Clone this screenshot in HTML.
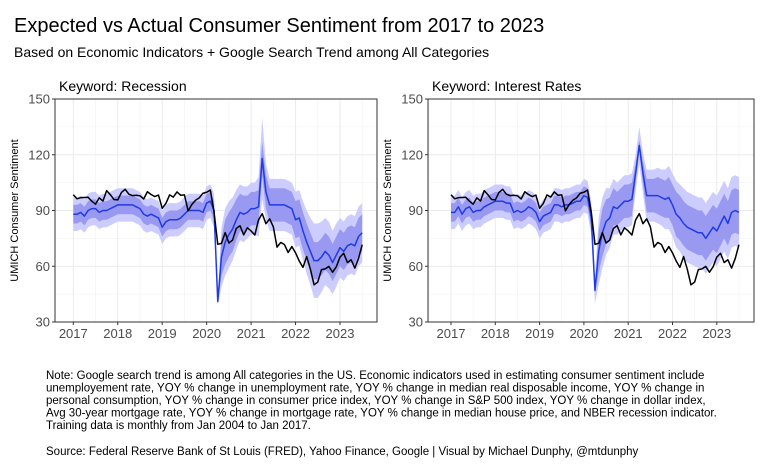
<!DOCTYPE html>
<html><head><meta charset="utf-8">
<style>
body{margin:0;background:#fff;}
svg{display:block;font-family:"Liberation Sans",Arial,sans-serif;}
</style></head>
<body>
<svg id="chart" width="770" height="475" viewBox="0 0 770 475">
<text x="14" y="32" font-size="20" fill="#000">Expected vs Actual Consumer Sentiment from 2017 to 2023</text>
<text x="14" y="57" font-size="14" fill="#000">Based on Economic Indicators + Google Search Trend among All Categories</text>
<g id="p1"></g>
<g id="p2"></g>
<g font-size="11.5" fill="#000">
<text x="46" y="379">Note: Google search trend is among All categories in the US. Economic indicators used in estimating consumer sentiment include</text>
<text x="46" y="391.5">unemployement rate, YOY % change in unemployment rate, YOY % change in median real disposable income, YOY % change in</text>
<text x="46" y="404">personal consumption, YOY % change in consumer price index, YOY % change in S&amp;P 500 index, YOY % change in dollar index,</text>
<text x="46" y="416.5">Avg 30-year mortgage rate, YOY % change in mortgage rate, YOY % change in median house price, and NBER recession indicator.</text>
<text x="46" y="429">Training data is monthly from Jan 2004 to Jan 2017.</text>
</g>
<text x="46" y="455" font-size="11.5" fill="#000">Source: Federal Reserve Bank of St Louis (FRED), Yahoo Finance, Google | Visual by Michael Dunphy, @mtdunphy</text>
</svg>
<script>
const actual=[98.5,96.3,96.9,97.0,97.1,95.0,93.4,96.8,95.1,100.7,98.5,95.9,
95.7,99.7,101.4,98.8,98.0,98.2,97.9,96.2,100.1,98.6,97.5,98.3,
91.2,93.8,98.4,97.2,100.0,98.2,98.4,89.8,93.2,95.5,96.8,99.3,
99.8,101.0,89.1,71.8,72.3,78.1,72.5,74.1,80.4,81.8,76.9,80.7,
79.0,76.8,84.9,88.3,82.9,85.5,81.2,70.3,72.8,71.7,67.4,70.6,
67.2,62.8,59.4,65.2,58.4,50.0,51.5,58.2,58.6,59.9,56.8,59.7,
64.9,67.0,62.0,63.5,59.0,64.2,71.6];
const predRecession=[88,88,89,87,90,91,91,89,90,90,91,92,
93,93,93,93,93,92,91,88,87,88,87,86,
81,84,85,85,85,86,88,90,90,90,90,89,
94,95,90,41,65,73,77,80,85,89,88,89,
91,91,92,118,100,93,93,93,93,93,92,91,
85,86,79,73,68,63,63,65,68,66,62,66,
70,68,71,72,71,76,78];
const innerRecession=[5,5,5,5,5,5,5,5,5,5,5,5, 5,5,5,5,5,5,5,5,5,5,5,5, 5,5,5,5,5,5,5,5,5,5,5,5,
5,5,5,1,10,12,12,12,11,10,10,9, 9,9,9,9,9,9,9,9,9,9,9,9, 10,10,10,10,10,10,10,10,10,10,10,10, 10,10,10,10,10,10,10];
const outerRecession=[9,9,9,9,9,9,9,9,9,9,9,9, 9,9,9,9,9,9,9,9,9,9,9,9, 9,9,9,9,9,9,9,9,9,9,9,9,
9,9,9,2,16,18,18,17,16,15,15,14, 14,14,16,22,15,14,14,14,14,14,14,14, 15,15,16,17,18,20,20,19,18,18,17,17, 16,16,16,16,16,16,16];
const predRates=[89,89,92,88,91,92,89,90,90,92,93,94,
95,95,95,94,94,89,90,89,90,92,91,89,
84,87,88,89,93,93,92,93,93,94,95,95,
98,97,86,47,68,78,84,86,92,91,93,95,
95,96,110,125,110,98,98,98,98,97,96,97,
93,88,86,83,81,80,79,78,78,75,78,81,
79,83,87,83,89,90,89];
const innerRates=[5,5,5,5,5,5,5,5,5,5,5,5, 5,5,5,5,5,5,5,5,5,5,5,5, 5,5,5,5,5,5,5,5,5,5,5,5,
5,5,5,1,11,13,12,11,10,9,9,9, 9,9,5,3,6,9,9,9,10,10,10,11, 11,12,12,12,12,12,12,12,12,12,12,12, 12,12,12,12,12,12,12];
const outerRates=[9,9,9,9,9,9,9,9,9,9,9,9, 9,9,9,9,9,9,9,9,9,9,9,9, 9,9,9,9,9,9,9,9,9,9,9,9,
9,9,9,7,18,19,18,16,15,14,14,14, 14,14,10,10,11,14,14,14,15,15,16,17, 17,18,18,19,19,19,19,19,19,19,19,19, 19,19,19,19,19,19,19];
const yTicks=[30,60,90,120,150];
const xTicks=[2017,2018,2019,2020,2021,2022,2023];
const NS="http://www.w3.org/2000/svg";
function mk(tag,attrs,parent){const e=document.createElementNS(NS,tag);for(const k in attrs)e.setAttribute(k,attrs[k]);parent.appendChild(e);return e;}
function panel(g,x0,x1,x2017,yearW,title,pred,inner,outer){
  const yTop=99,yBot=322;
  const yS=v=>yBot-(v-30)/120*(yBot-yTop);
  const xS=i=>x2017+(i/12)*yearW;
  const t=mk('text',{x:x0+4,y:91,'font-size':14,fill:'#000'},g);t.textContent=title;
  
  
  // minor grid
  for(let v=45;v<150;v+=30)mk('line',{x1:x0,x2:x1,y1:yS(v),y2:yS(v),stroke:'#f2f2f2','stroke-width':0.6},g);
  for(let y=2016.5;y<2024;y+=1){const x=x2017+(y-2017)*yearW;if(x>x0&&x<x1)mk('line',{x1:x,x2:x,y1:yTop,y2:yBot,stroke:'#f2f2f2','stroke-width':0.6},g);}
  yTicks.forEach(v=>{mk('line',{x1:x0,x2:x1,y1:yS(v),y2:yS(v),stroke:'#ebebeb','stroke-width':1},g);
    mk('line',{x1:x0-3,x2:x0,y1:yS(v),y2:yS(v),stroke:'#333'},g);
    const l=mk('text',{x:x0-5,y:yS(v)+4.5,'font-size':13,fill:'#4d4d4d','text-anchor':'end'},g);l.textContent=v;
    
    });
  xTicks.forEach(yv=>{const x=x2017+(yv-2017)*yearW;
    mk('line',{x1:x,x2:x,y1:yTop,y2:yBot,stroke:'#ebebeb','stroke-width':1},g);
    mk('line',{x1:x,x2:x,y1:yBot,y2:yBot+3,stroke:'#333'},g);
    const l=mk('text',{x:x,y:yBot+16,'font-size':13,fill:'#4d4d4d','text-anchor':'middle'},g);l.textContent=yv;
    
    });
  function band(w,color,name){let up='',dn='';
    pred.forEach((p,i)=>{up+=(i?'L':'M')+xS(i)+','+yS(p+w[i]);});
    for(let i=pred.length-1;i>=0;i--)dn+='L'+xS(i)+','+yS(pred[i]-w[i]);
    const b=mk('path',{d:up+dn+'Z',fill:color,stroke:'none'},g);
    
    }
  band(outer,'#ccccff','outer-interval-band');
  band(inner,'#9999f2','inner-interval-band');
  function line(arr,color,name){let d='';arr.forEach((v,i)=>{d+=(i?'L':'M')+xS(i)+','+yS(v);});
    const p=mk('path',{d:d,fill:'none',stroke:color,'stroke-width':1.5,'stroke-linejoin':'round'},g);
    
    }
  line(pred,'#1f3be6','expected-sentiment-line');
  line(actual,'#000','actual-sentiment-line');
  mk('rect',{x:x0,y:yTop,width:x1-x0,height:yBot-yTop,fill:'none',stroke:'#333','stroke-width':1},g);
  const yl=mk('text',{transform:`translate(${x0-37},${(yTop+yBot)/2}) rotate(-90)`,'font-size':11,fill:'#000','text-anchor':'middle'},g);
  yl.textContent='UMICH Consumer Sentiment';
  
  
}
panel(document.getElementById('p1'),55,377,73.3,44.45,'Keyword: Recession',predRecession,innerRecession,outerRecession);
panel(document.getElementById('p2'),428,754,451,44.3,'Keyword: Interest Rates',predRates,innerRates,outerRates);
</script>
</body></html>
